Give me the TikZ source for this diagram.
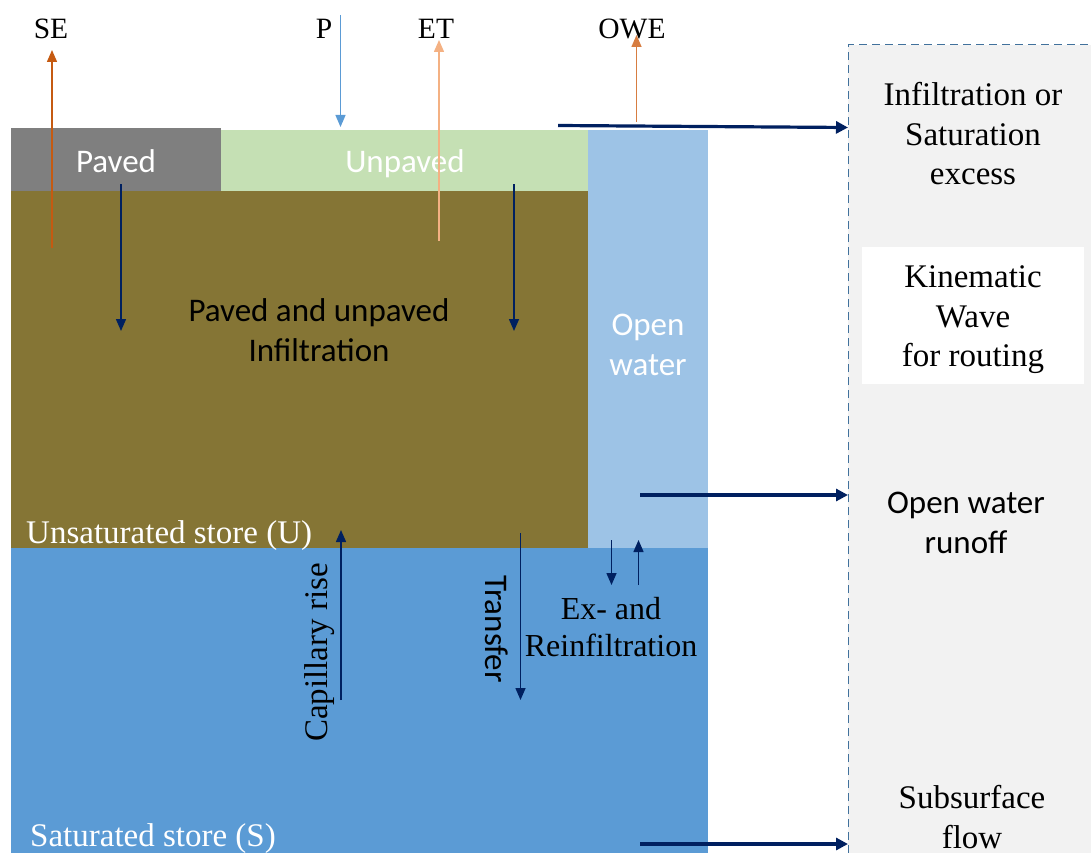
\documentclass[tikz,border=0pt]{standalone}
\usepackage{fontspec}
\setmainfont{Liberation Serif}
\newfontfamily\sansfnt{Carlito}
\usetikzlibrary{arrows.meta}
\definecolor{pavedgray}{RGB}{127,127,127}
\definecolor{unpavedgreen}{RGB}{197,224,180}
\definecolor{soilbrown}{RGB}{133,117,53}
\definecolor{openblue}{RGB}{157,195,230}
\definecolor{satblue}{RGB}{91,155,213}
\definecolor{panelgray}{RGB}{242,242,242}
\definecolor{paneledge}{RGB}{65,113,156}
\definecolor{navy}{RGB}{0,32,96}
\definecolor{darkorange}{RGB}{197,90,17}
\definecolor{midorange}{RGB}{215,125,65}
\definecolor{lightorange}{RGB}{244,177,131}
\definecolor{rainblue}{RGB}{91,155,213}
\begin{document}
\begin{tikzpicture}[x=1pt,y=-1pt,
  serif/.style={font=\fontsize{33}{39.5}\selectfont, inner sep=0pt},
  toplabel/.style={font=\fontsize{29.5}{35}\selectfont, inner sep=0pt, anchor=base},
  sans/.style={font=\sansfnt\fontsize{33}{40}\selectfont, inner sep=0pt},
  flow/.style={draw=navy, line width=1.5pt, -{Triangle[length=12pt,width=10pt]}},
  runoff/.style={draw=navy, line width=3.2pt, -{Triangle[length=12pt,width=12pt]}},
  vapour/.style={line width=1.5pt, -{Triangle[length=12pt,width=10pt]}}
]
\useasboundingbox (0,0) rectangle (1091,853);
% areas
\fill[panelgray] (848,45) rectangle (1091,853);
\draw[paneledge, dash pattern=on 8pt off 5pt, line width=1pt] (848,853) -- (848,45) -- (1091,45);
\fill[white] (862,247) rectangle (1084,384);
\fill[satblue] (11,548) rectangle (708,853);
\fill[soilbrown] (11,191) rectangle (588,548);
\fill[openblue] (588,130) rectangle (708,548);
\fill[pavedgray] (11,128) rectangle (221,191);
\fill[unpavedgreen] (221,130) rectangle (588,191);
% labels
\node[toplabel] (se) at (51,39) {SE};
\node[toplabel] (p) at (324,39) {P};
\node[toplabel] (et) at (436,39) {ET};
\node[toplabel] (owe) at (632,39) {OWE};
\node[sans, text=white, anchor=base] (paved) at (116,173) {Paved};
\node[sans, text=white, anchor=base] (unpaved) at (405,173) {Unpaved};
\node[sans, align=center, anchor=north] (pui) at (319,298) {Paved and unpaved\\Infiltration};
\node[sans, align=center, text=white, anchor=north] (ow) at (648,314) {Open\\water};
\node[serif, text=white, anchor=base west] (us) at (26,543) {Unsaturated store (U)};
\node[serif, text=white, anchor=base west] (ss) at (30,846) {Saturated store (S)};
\node[serif, rotate=90] (cap) at (319.5,652.5) {Capillary rise};
\node[sans, rotate=-90] (tr) at (497,629) {Transfer};
\node[serif, align=center, anchor=north, font=\fontsize{32}{37}\selectfont] (exre) at (611,597) {Ex- and\\Reinfiltration};
\node[serif, align=center, anchor=north] (ise) at (973,82.5) {Infiltration or\\Saturation\\excess};
\node[serif, align=center, anchor=north] (kw) at (973,265.5) {Kinematic\\Wave\\ for routing};
\node[sans, align=center, anchor=north] (owr) at (966,492) {Open water\\runoff};
\node[serif, align=center, anchor=north] (sf) at (972,785.5) {Subsurface\\flow};
% arrow end points
\coordinate (seA) at (52,248);   \coordinate (seB) at (52,50);
\coordinate (pA) at (340.5,15);  \coordinate (pB) at (340.5,127);
\coordinate (etA) at (439,241);  \coordinate (etB) at (439,40);
\coordinate (oweA) at (636.5,122); \coordinate (oweB) at (636.5,35);
\coordinate (pvA) at (121,184);  \coordinate (pvB) at (121,331);
\coordinate (upA) at (514,184);  \coordinate (upB) at (514,331);
\coordinate (srA) at (558,125.5); \coordinate (srB) at (848,127.5);
\coordinate (crA) at (341,700);  \coordinate (crB) at (341,530);
\coordinate (trA) at (520.5,533); \coordinate (trB) at (520.5,700);
\coordinate (exA) at (611.5,540); \coordinate (exB) at (611.5,585);
\coordinate (reA) at (638.5,585); \coordinate (reB) at (638.5,540);
\coordinate (owA) at (640,495);  \coordinate (owB) at (848,495);
\coordinate (ssA) at (640,844);  \coordinate (ssB) at (848,844);
% arrows
\draw[vapour, darkorange] (seA) -- (seB);
\draw[vapour, rainblue, line width=1.2pt] (pA) -- (pB);
\draw[vapour, lightorange] (etA) -- (etB);
\draw[vapour, midorange] (oweA) -- (oweB);
\draw[flow] (pvA) -- (pvB);
\draw[flow] (upA) -- (upB);
\draw[runoff] (srA) -- (srB);
\draw[flow] (crA) -- (crB);
\draw[flow] (trA) -- (trB);
\draw[flow] (exA) -- (exB);
\draw[flow] (reA) -- (reB);
\draw[runoff] (owA) -- (owB);
\draw[runoff] (ssA) -- (ssB);
\end{tikzpicture}
\end{document}
